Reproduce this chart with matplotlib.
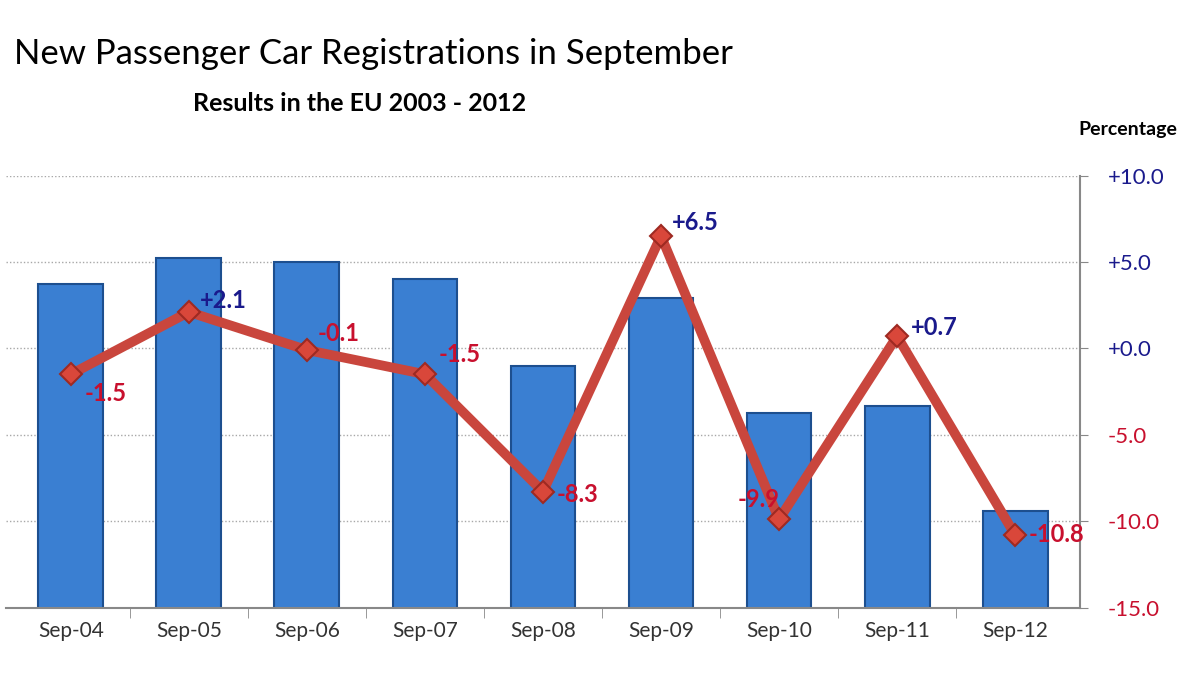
import matplotlib.pyplot as plt
import numpy as np

plt.rcParams['font.family'] = ['Lato', 'DejaVu Sans']

months = ['Sep-04', 'Sep-05', 'Sep-06', 'Sep-07', 'Sep-08', 'Sep-09', 'Sep-10', 'Sep-11', 'Sep-12']
# registrations in thousands (left axis is cut off in the picture)
registrations = [1300, 1330, 1325, 1305, 1205, 1283, 1150, 1158, 1037]
# change vs. same month previous year, %
change = [-1.5, 2.1, -0.1, -1.5, -8.3, 6.5, -9.9, 0.7, -10.8]
pct_ticks = [-15, -10, -5, 0, 5, 10]

blue_txt = '#1a1a8c'
red_txt = '#c8102e'
line_red = '#c9463d'

fig = plt.figure(figsize=(12, 6.75), dpi=100)
ax = fig.add_axes([0.005, 0.1, 0.895, 0.64])
x = np.arange(len(months))

# bars on the (hidden) primary axis
ax.bar(x, registrations, width=0.55, color='#3a7fd2', edgecolor='#1d4f8f',
       linewidth=1.5, zorder=2)
ax.set_ylim(925, 1425)
# gridlines match the percentage ticks on the right
ax.set_yticks([925 + 20 * (p + 15) for p in pct_ticks])
ax.set_yticklabels([])
ax.tick_params(axis='y', length=0)
ax.grid(axis='y', color='#a8a8a8', linestyle=(0, (1, 1.5)), linewidth=1)
ax.set_axisbelow(True)

ax.set_xlim(-0.55, len(months) - 0.45)
ax.set_xticks(x)
ax.set_xticklabels(months, fontsize=15, color='#333333')
ax.tick_params(axis='x', length=0, pad=10)
ax.set_xticks(x[:-1] + 0.5, minor=True)
ax.tick_params(axis='x', which='minor', length=7, color='#888888')
for s in ['top', 'left']:
    ax.spines[s].set_visible(False)
ax.spines['bottom'].set_color('#888888')
ax.spines['bottom'].set_linewidth(1.5)
ax.spines['right'].set_visible(False)

# percentage change on the secondary axis
ax2 = ax.twinx()
ax2.plot(x, change, '-D', color=line_red, linewidth=7, markersize=11,
         markerfacecolor='#d9473a', markeredgecolor='#9e2a22', markeredgewidth=1.5,
         solid_joinstyle='miter', zorder=3)
ax2.set_ylim(-15, 10)
ax2.set_yticks(pct_ticks)
ax2.set_yticklabels([f'{p:+.1f}' for p in pct_ticks], fontsize=16)
for lab, p in zip(ax2.get_yticklabels(), pct_ticks):
    lab.set_color(blue_txt if p >= 0 else red_txt)
ax2.tick_params(axis='y', length=6, color='#888888', pad=14)
for s in ['top', 'left', 'bottom']:
    ax2.spines[s].set_visible(False)
ax2.spines['right'].set_color('#888888')
ax2.spines['right'].set_linewidth(1.5)

# data labels
offsets = [(10, -14), (8, 8), (8, 12), (10, 14), (10, -2), (8, 10), (-30, 14), (10, 6), (10, 0)]
for xi, v, off in zip(x, change, offsets):
    ax2.annotate(f'{v:+.1f}', (xi, v), xytext=off, textcoords='offset points',
                 fontsize=17, fontweight='bold', ha='left', va='center',
                 color=blue_txt if v > 0 else red_txt, zorder=4)

fig.text(0.012, 0.905, 'New Passenger Car Registrations in September',
         fontsize=25, ha='left', color='black')
fig.text(0.30, 0.835, 'Results in the EU 2003 - 2012',
         fontsize=18, fontweight='bold', ha='center', color='black')
fig.text(0.94, 0.80, 'Percentage', fontsize=14, fontweight='bold', ha='center',
         color='black')

fig.savefig('out.png', dpi=100, facecolor='white')
